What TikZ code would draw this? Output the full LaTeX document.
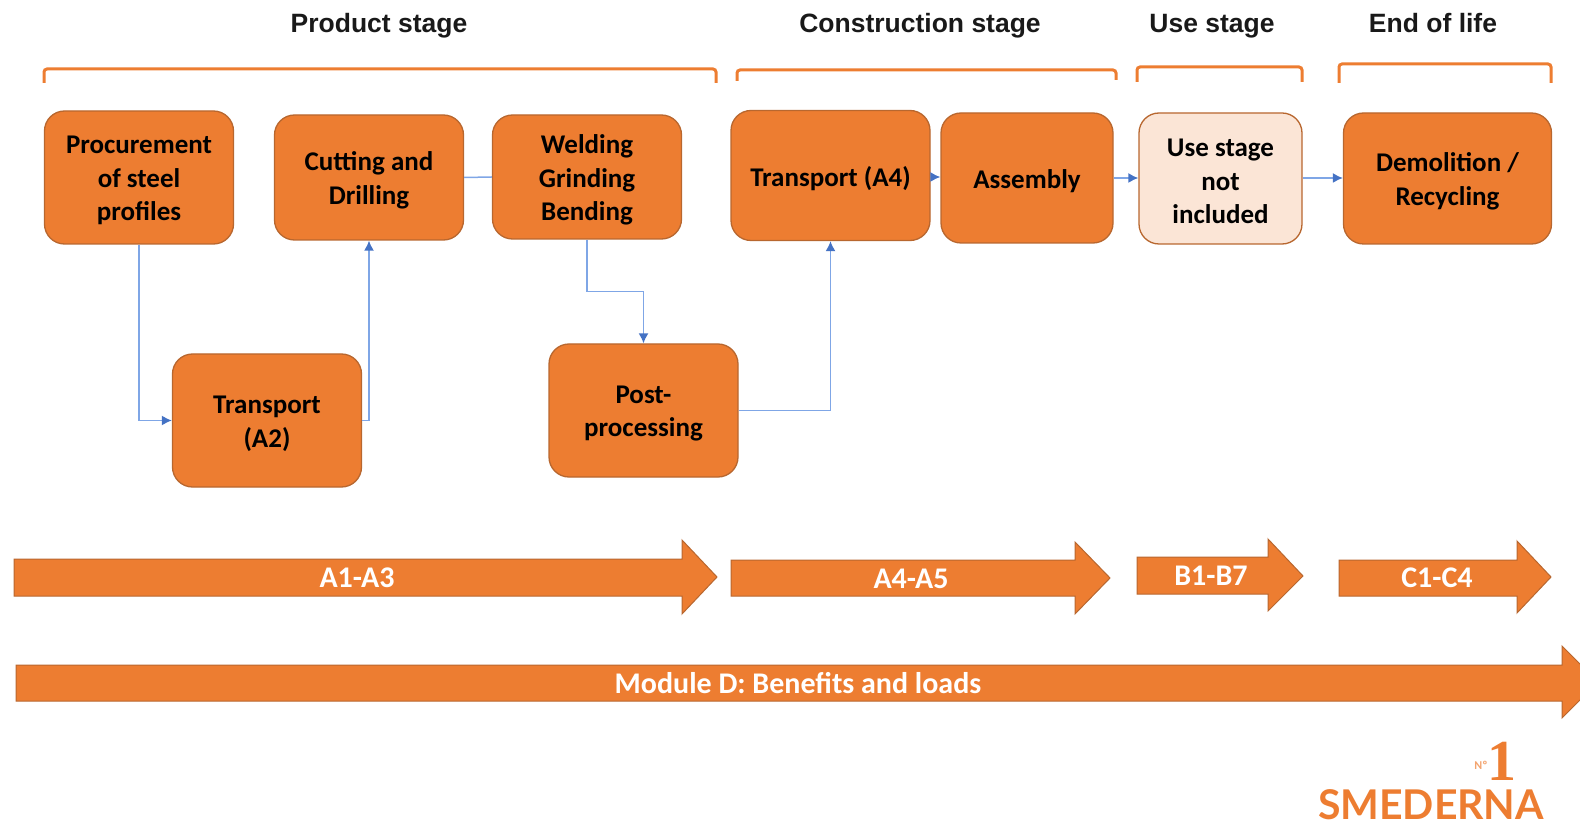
\documentclass[tikz,border=0pt]{standalone}
\usepackage{fontspec}
\setmainfont{Carlito}
\newfontfamily\headfont{Liberation Sans}
\newfontfamily\logofont{Lato}
\newfontfamily\numfont{Liberation Serif}
\usepackage{xcolor}
\usepackage{tikz}
\usetikzlibrary{arrows.meta}

\definecolor{boxorange}{HTML}{ED7D31}
\definecolor{boxedge}{HTML}{B8672F}
\definecolor{boxlight}{HTML}{FBE5D6}
\definecolor{linkblue}{HTML}{7FA6E6}
\definecolor{tipblue}{HTML}{4472C4}

\newcommand{\lowered}[2]{\raisebox{-3pt}[\height][\depth]{\parbox{#1}{\centering #2}}}

\tikzset{
    stagebox/.style = {draw = boxedge, line width = 1.3pt, fill = boxorange, rounded corners = 20pt,
        align = center, inner sep = 0pt, font = \fontsize{27}{33.7}\selectfont\bfseries},
    stagehead/.style = {anchor = base, inner sep = 0pt, font = \fontsize{26.5}{30}\selectfont\headfont\bfseries, text = black!90},
    bandtext/.style = {inner sep = 0pt, text = white, font = \fontsize{30}{32}\selectfont\bfseries},
    bracket/.style = {draw = boxorange, line width = 3pt, rounded corners = 3pt},
    band/.style = {draw = boxedge, line width = 1pt, fill = boxorange},
    plainlink/.style = {draw = linkblue, line width = 1.5pt},
    link/.style = {plainlink, -{Latex[length = 10pt, width = 10pt, color = tipblue]}},
}

\begin{document}
\begin{tikzpicture}[x = 1pt, y = -1pt]
        \useasboundingbox (0, 0) rectangle (1580, 826);
        \clip (0, 0) rectangle (1580, 826);

        % stage titles
        \node[stagehead] (product) at (379, 33) {Product stage};
        \node[stagehead] (construction) at (920, 33) {Construction stage};
        \node[stagehead] (use) at (1212, 33) {Use stage};
        \node[stagehead] (end) at (1433, 33) {End of life};

        % brackets
        \draw[bracket] (44, 83) -- (44, 69) -- (716, 69) -- (716, 83);
        \draw[bracket] (737, 81) -- (737, 70) -- (1116, 70) -- (1116, 80);
        \draw[bracket] (1137, 82) -- (1137, 67) -- (1302, 67) -- (1302, 82);
        \draw[bracket] (1339, 83) -- (1339, 64) -- (1551, 64) -- (1551, 83);

        % boxes
        \node[stagebox, minimum width = 189pt, minimum height = 133pt] (procure) at (139, 177.5)
            {\lowered{180pt}{Procurement\\of steel\\profiles}};
        \node[stagebox, minimum width = 189pt, minimum height = 125pt] (cutting) at (369, 177.5)
            {\lowered{180pt}{Cutting and\\Drilling}};
        \node[stagebox, minimum width = 189pt, minimum height = 124pt] (welding) at (587, 177)
            {\lowered{180pt}{Welding\\Grinding\\Bending}};
        \node[stagebox, minimum width = 199pt, minimum height = 130pt] (transfour) at (830.5, 175.5)
            {\lowered{190pt}{Transport (A4)}};
        \node[stagebox, minimum width = 172pt, minimum height = 130pt] (assembly) at (1027, 178)
            {\lowered{160pt}{Assembly}};
        \node[stagebox, fill = boxlight, minimum width = 163pt, minimum height = 131pt] (usebox) at (1220.5, 178.5)
            {\lowered{155pt}{Use stage\\not\\included}};
        \node[stagebox, minimum width = 208pt, minimum height = 131pt] (demolition) at (1447.5, 178.5)
            {\lowered{200pt}{Demolition /\\Recycling}};
        \node[stagebox, minimum width = 189pt, minimum height = 133pt] (transtwo) at (267, 420.5)
            {\lowered{180pt}{Transport\\(A2)}};
        \node[stagebox, minimum width = 189pt, minimum height = 133pt] (post) at (643.5, 410.5)
            {\lowered{180pt}{Post-\\processing}};

        % connectors
        \draw[link] (procure.south) |- (transtwo.west);
        \draw[link] (transtwo.east) -| (cutting.south);
        \draw[plainlink] (cutting.east) -- (welding.west);
        \draw[link] (welding.south) -- ++(0, 52) -| (post.north);
        \draw[link] (post.east) -| (transfour.south);
        \draw[link] (transfour.east |- 0, 177) -- (assembly.west |- 0, 177);
        \draw[link] (assembly.east |- 0, 178) -- (usebox.west |- 0, 178);
        \draw[link] (usebox.east |- 0, 178) -- (demolition.west |- 0, 178);

        % bottom arrows
        \filldraw[band] (14, 559) -- (682, 559) -- (682, 540) -- (717, 577) -- (682, 614) -- (682, 596) -- (14, 596) -- cycle;
        \filldraw[band] (731, 560) -- (1075, 560) -- (1075, 542) -- (1110, 578) -- (1075, 614) -- (1075, 596) -- (731, 596) -- cycle;
        \filldraw[band] (1137, 557) -- (1268, 557) -- (1268, 539) -- (1303, 576) -- (1268, 611) -- (1268, 594) -- (1137, 594) -- cycle;
        \filldraw[band] (1339, 560) -- (1517, 560) -- (1517, 541) -- (1551, 577) -- (1517, 613) -- (1517, 596) -- (1339, 596) -- cycle;
        \filldraw[band] (16, 665) -- (1562, 665) -- (1562, 646) -- (1598, 682) -- (1562, 718) -- (1562, 701) -- (16, 701) -- cycle;

        \node[bandtext] (aone) at (357, 578) {A1-A3};
        \node[bandtext] (afour) at (911, 579) {A4-A5};
        \node[bandtext] (bone) at (1211, 576) {B1-B7};
        \node[bandtext] (cone) at (1437, 578) {C1-C4};
        \node[bandtext] (moduled) at (798, 683) {Module D: Benefits and loads};

        % logo
        \node[inner sep = 0pt, text = boxorange, font = \fontsize{58}{58}\selectfont\numfont\bfseries] (logoone) at (1502, 761) {1};
        \node[inner sep = 0pt, text = boxorange!70, font = \fontsize{12}{12}\selectfont\bfseries] (logono) at (1481, 765) {Nº};
        \node[inner sep = 0pt, text = boxorange, font = \fontsize{41}{41}\selectfont\logofont\bfseries] (logoname) at (1431, 805) {SMEDERNA};
    \end{tikzpicture}
\end{document}
